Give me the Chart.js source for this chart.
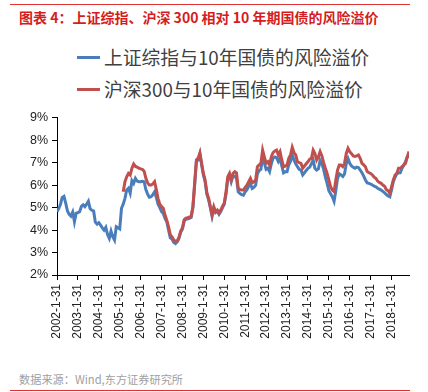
<!DOCTYPE html>
<html>
<head>
<meta charset="utf-8">
<script src="https://cdn.jsdelivr.net/npm/chart.js@4"></script>
<style>
  body { margin: 0; background: #fff; }
  #wrap { position: relative; width: 428px; height: 392px; overflow: hidden; font-family: 'Noto Sans CJK SC', sans-serif; }
  .rule { position: absolute; left: 10px; width: 400px; height: 1px; background: #e03030; }
  #title { position: absolute; left: 19px; top: 7px; font-size: 14px; font-weight: bold; color: #d51d1d; white-space: nowrap; }
  .leg { position: absolute; left: 77px; font-size: 18.8px; color: #404040; white-space: nowrap; line-height: 1; }
  .leg i { display: inline-block; width: 23px; height: 3px; vertical-align: middle; margin-right: 4px; position: relative; top: -2px; }
  #src { position: absolute; left: 19px; top: 371px; font-size: 11.2px; color: #a0a0a0; white-space: nowrap; }
  #box { position: absolute; left: 0; top: 105px; width: 428px; height: 250px; }
</style>
</head>
<body>
<div id="wrap">
  <div class="rule" style="top:4px"></div>
  <div id="title">图表 4：上证综指、沪深 300 相对 10 年期国债的风险溢价</div>
  <div class="leg" style="top:48px"><i style="background:#4a7ebb"></i>上证综指与10年国债的风险溢价</div>
  <div class="leg" style="top:80px"><i style="background:#c0504d"></i>沪深300与10年国债的风险溢价</div>
  <div id="box"><canvas id="chart"></canvas></div>
  <div id="src">数据来源：Wind,东方证券研究所</div>
  <div class="rule" style="top:390px"></div>
</div>
<script>
// monthly points, month 0 = 2002-01
const yearTicks = ['2002-1-31', '2003-1-31', '2004-1-31', '2005-1-31', '2006-1-31', '2007-1-31',
  '2008-1-31', '2009-1-31', '2010-1-31', '2011-1-31', '2012-1-31', '2013-1-31', '2014-1-31',
  '2015-1-31', '2016-1-31', '2017-1-31', '2018-1-31'];
const yTicks = [2, 3, 4, 5, 6, 7, 8, 9];

const szStart = 0;
const szVals = [
  4.82, 4.95, 5.15, 5.45, 5.5, 5.2, 4.85, 4.7, 4.62, 4.8, 4.37, 4.75,
  4.78, 4.82, 5.05, 5.12, 5.04, 5.15, 5.28, 4.95, 4.88, 4.85, 4.35, 4.26,
  4.33, 4.22, 4.1, 4.0, 4.12, 3.8, 3.63, 3.95, 3.7, 3.55, 4.15, 4.1,
  4.05, 4.97, 5.15, 5.41, 5.78, 5.86, 5.64, 6.2, 6.08, 6.3, 6.18, 6.15,
  6.15, 6.17, 6.15, 5.8, 5.6, 5.46, 5.48, 5.58, 5.7, 5.45, 5.15, 5.0,
  4.82, 4.74, 4.52, 4.37, 4.0, 3.65, 3.6, 3.45, 3.4, 3.48, 3.63, 3.9,
  4.05, 4.4, 4.48, 4.5, 4.52, 4.56, 5.0, 6.0, 7.05, 7.12, 7.38, 6.9,
  6.45, 6.15, 5.6, 5.35, 5.0, 4.62, 4.98, 4.78, 4.85, 4.7, 4.82, 5.0,
  5.15, 5.6, 6.28, 6.45, 6.15, 6.4, 6.4, 6.3, 5.7, 5.62, 5.58, 5.55,
  5.7, 5.8, 5.95, 6.05, 5.85, 5.9, 6.0, 6.5, 6.65, 6.7, 7.25, 6.98,
  6.7, 6.75, 6.6, 6.95, 7.2, 7.25, 7.22, 7.05, 7.2, 6.85, 6.55, 6.6,
  6.6, 6.9, 7.05, 7.35, 7.12, 6.95, 6.82, 6.7, 6.67, 6.45, 6.55, 6.65,
  6.75, 6.8, 6.95, 7.12, 6.75, 6.67, 6.72, 7.1, 6.95, 6.7, 6.35, 6.08,
  5.75, 5.62, 5.48, 5.28, 5.75, 6.3, 6.5, 6.45, 6.38, 6.5, 6.95, 7.18,
  6.97, 6.85, 6.8, 6.75, 6.8, 6.78, 6.67, 6.55, 6.4, 6.23, 6.1, 6.08,
  6.05, 6.0, 5.95, 5.92, 5.86, 5.82, 5.78, 5.72, 5.66, 5.58, 5.52, 5.48,
  5.8, 6.15, 6.35, 6.5, 6.55, 6.55, 6.75, 6.88, 7.05, 7.25, 7.3
];

const hsStart = 38;
const hsVals = [
  5.7, 6.15, 6.37, 6.52, 6.45, 6.75, 6.94, 6.83, 6.8, 6.75,
  6.72, 6.7, 6.62, 6.3, 6.1, 6.0, 6.0, 6.05, 6.15, 5.8, 5.4, 5.15,
  5.04, 4.97, 4.67, 4.44, 4.15, 3.8, 3.7, 3.56, 3.5, 3.52, 3.68, 3.95,
  4.1, 4.47, 4.53, 4.55, 4.58, 4.62, 5.05, 6.1, 7.12, 7.2, 7.44, 6.97,
  6.52, 6.23, 5.66, 5.41, 5.04, 4.67, 5.04, 4.82, 4.89, 4.76, 4.9, 5.06,
  5.2, 5.71, 6.37, 6.52, 6.23, 6.52, 6.6, 6.55, 5.86, 5.8, 5.78, 5.78,
  5.9, 6.0, 6.15, 6.3, 6.1, 6.15, 6.23, 6.82, 6.9, 6.97, 7.56, 7.26,
  6.97, 7.04, 6.89, 7.26, 7.45, 7.52, 7.56, 7.34, 7.49, 7.12, 6.82, 6.85,
  6.89, 7.19, 7.34, 7.68, 7.45, 7.34, 7.04, 7.0, 6.97, 6.75, 6.85, 6.95,
  7.04, 7.15, 7.19, 7.56, 7.41, 7.12, 7.26, 7.49, 7.3, 7.0, 6.75, 6.52,
  6.23, 5.93, 5.78, 5.71, 6.23, 6.67, 6.89, 6.89, 6.82, 6.97, 7.41, 7.64,
  7.49, 7.4, 7.3, 7.28, 7.3, 7.34, 7.19, 6.97, 6.9, 6.82, 6.6, 6.55,
  6.52, 6.45, 6.35, 6.3, 6.18, 6.12, 6.08, 6.0, 5.95, 5.8, 5.75, 5.64,
  5.93, 6.23, 6.45, 6.52, 6.75, 6.75, 6.82, 6.9, 6.97, 7.26, 7.5
];

function pts(start, vals) { return vals.map((v, i) => ({ x: start + i, y: v })); }

const tickFont = { family: "'Liberation Sans', Arial, sans-serif", size: 12 };
const lastMonth = szStart + szVals.length - 1;

new Chart(document.getElementById('chart').getContext('2d'), {
  type: 'line',
  data: {
    datasets: [
      { label: '沪深300与10年国债的风险溢价', data: pts(hsStart, hsVals), borderColor: '#c0504d', borderWidth: 3, pointRadius: 0, tension: 0, order: 0 },
      { label: '上证综指与10年国债的风险溢价', data: pts(szStart, szVals), borderColor: '#4a7ebb', borderWidth: 3, pointRadius: 0, tension: 0, order: 1 }
    ]
  },
  options: {
    responsive: true, maintainAspectRatio: false, animation: false,
    layout: { padding: { top: 12.7, right: 19, left: 0, bottom: 0 } },
    plugins: { legend: { display: false }, tooltip: { enabled: false } },
    scales: {
      x: {
        type: 'linear', min: 0, max: lastMonth,
        afterBuildTicks: (s) => { s.ticks = yearTicks.map((_, i) => ({ value: i * 12 })); },
        afterFit: (s) => { s.height = 80; },
        ticks: { autoSkip: false, minRotation: 90, maxRotation: 90, padding: 4, color: '#222', font: tickFont,
          callback: (v, i) => yearTicks[i] },
        grid: { drawOnChartArea: false, drawTicks: true, tickLength: 5, color: '#000' },
        border: { display: true, color: '#000', width: 1 }
      },
      y: {
        min: yTicks[0], max: yTicks[yTicks.length - 1],
        afterBuildTicks: (s) => { s.ticks = yTicks.map(v => ({ value: v })); },
        afterFit: (s) => { s.width = 57; },
        ticks: { padding: 4, color: '#222', font: { family: "'Liberation Sans', Arial, sans-serif", size: 12.5 },
          callback: (v) => v + '%' },
        grid: { drawOnChartArea: false, drawTicks: true, tickLength: 5, color: '#000' },
        border: { display: true, color: '#000', width: 1 }
      }
    }
  }
});
</script>
</body>
</html>
